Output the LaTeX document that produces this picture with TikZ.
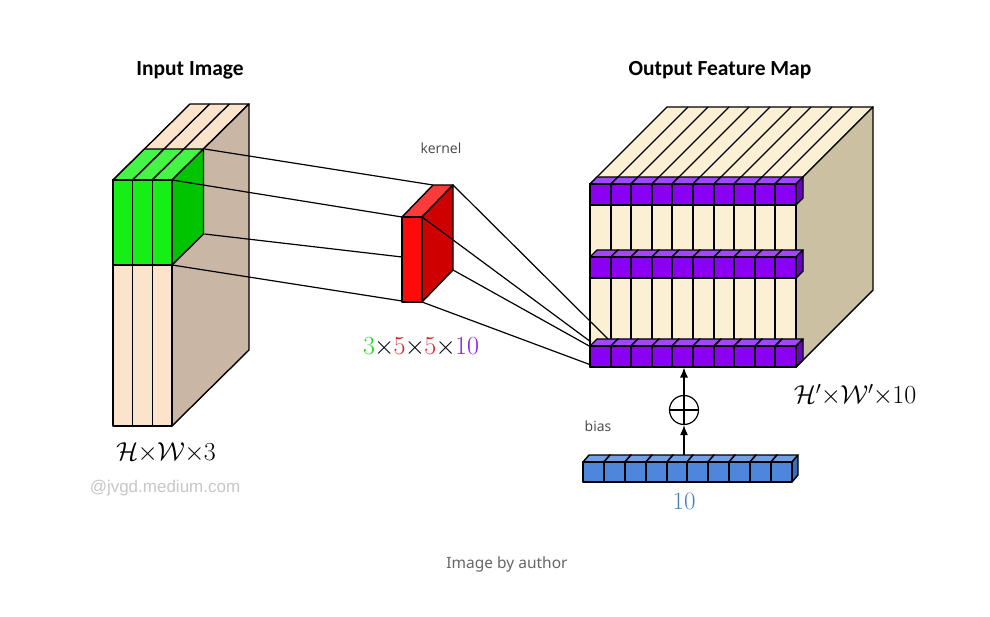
\RequirePackage{fix-cm}
\documentclass[tikz,border=0pt]{standalone}
\usepackage{fontspec}
\usetikzlibrary{arrows.meta}
\newfontfamily\carlito{Carlito}
\newfontfamily\opensans{Open Sans}
\newfontfamily\libsans{Liberation Sans}
\newfontfamily\notosans{Noto Sans}
\definecolor{beigeF}{HTML}{FCE3CB}
\definecolor{tanS}{HTML}{C9B6A4}
\definecolor{greenF}{HTML}{16EE16}
\definecolor{greenT}{HTML}{45F545}
\definecolor{greenS}{HTML}{00C400}
\definecolor{redF}{HTML}{FF0A0A}
\definecolor{redT}{HTML}{FF3A3A}
\definecolor{redS}{HTML}{CF0000}
\definecolor{creamF}{HTML}{FCF0D4}
\definecolor{khakiS}{HTML}{CCC0A2}
\definecolor{purpF}{HTML}{8A00F2}
\definecolor{purpT}{HTML}{A246FF}
\definecolor{purpS}{HTML}{6C00C4}
\definecolor{blueF}{HTML}{4D86DA}
\definecolor{blueT}{HTML}{70A0E6}
\definecolor{blueS}{HTML}{3A6BBE}
\definecolor{kgreen}{HTML}{22DD22}
\definecolor{kred}{HTML}{E0202A}
\definecolor{kpurp}{HTML}{8A1EF0}
\definecolor{tenblue}{HTML}{4A7DC4}
\newcommand\mycube[9]{%
  \filldraw[fill=#8] (#1,#2) -- ({#1+#5},{#2-#6}) -- ({#1+#3+#5},{#2-#6}) -- ({#1+#3},#2) -- cycle;
  \filldraw[fill=#9] ({#1+#3},#2) -- ({#1+#3+#5},{#2-#6}) -- ({#1+#3+#5},{#2+#4-#6}) -- ({#1+#3},{#2+#4}) -- cycle;
  \filldraw[fill=#7] (#1,#2) rectangle ({#1+#3},{#2+#4});
}
\newcommand\tm{\mathord{\mkern-0.5mu\times\mkern-0.5mu}}
\begin{document}
\begin{tikzpicture}[x=1pt,y=-1pt,line width=1.4pt,line join=round,
  conn/.style={line width=1.2pt},
  arr/.style={line width=1.2pt,-{Latex[length=10pt,width=8pt]}},
  title/.style={font=\carlito\bfseries\fontsize{21.5}{25}\selectfont},
  graylab/.style={font=\opensans\fontsize{14}{16}\selectfont,text=black!72},
  dimlab/.style={font=\fontsize{26}{30}\selectfont}]
\useasboundingbox[fill=white] (0,0) rectangle (990,617);

% ---- input block ----
\filldraw[fill=beigeF] (113,180) -- (190,104) -- (249,104) -- (172,180) -- cycle;
\foreach \k in {1,2} {\draw (113+\k*19.67,180) -- (190+\k*19.67,104);}
\filldraw[fill=tanS] (172,180) -- (249,104) -- (249,350) -- (172,426) -- cycle;
\filldraw[fill=beigeF] (113,180) rectangle (172,426);
\foreach \k in {1,2} {\draw (113+\k*19.67,180) -- (113+\k*19.67,426);}
\foreach \k in {0,1,2} {\mycube{113+\k*19.67}{180}{19.67}{85}{31.5}{31}{greenF}{greenT}{greenS}}
\coordinate (g1) at (204.5,149);
\coordinate (g2) at (172,180);
\coordinate (g3) at (204.5,234);
\coordinate (g4) at (172,265);
\coordinate (k1) at (433,185);
\coordinate (k2) at (402,217);
\coordinate (k3) at (402,257);
\coordinate (k4) at (402,301);
\draw[conn] (g1) -- (k1);
\draw[conn] (g2) -- (k2);
\draw[conn] (g3) -- (k3);
\draw[conn] (g4) -- (k4);

% ---- kernel ----
\mycube{402}{217}{20}{85}{31}{32}{redF}{redT}{redS}

% ---- output block ----
\filldraw[fill=creamF] (590,184) -- (667,107) -- (873,107) -- (796,184) -- cycle;
\foreach \k in {1,...,9} {\pgfmathsetmacro\xa{590+round(\k*20.6)}\draw (\xa,184) -- (\xa+77,107);}
\filldraw[fill=khakiS] (796,184) -- (873,107) -- (873,290) -- (796,367) -- cycle;
\filldraw[fill=creamF] (590,184) rectangle (796,367);
\foreach \k in {1,...,9} {\pgfmathsetmacro\xa{590+round(\k*20.6)}\draw (\xa,184) -- (\xa,367);}
\foreach \r in {184,257,346} {
  \foreach \k in {0,...,9} {%
    \pgfmathsetmacro\xa{590+round(\k*20.6)}%
    \pgfmathsetmacro\wd{round((\k+1)*20.6)-round(\k*20.6)}%
    \mycube{\xa}{\r}{\wd}{21}{7}{7}{purpF}{purpT}{purpS}}
}

% ---- bias ----
\foreach \k in {0,...,9} {%
  \pgfmathsetmacro\xa{583+round(\k*20.9)}%
  \pgfmathsetmacro\wd{round((\k+1)*20.9)-round(\k*20.9)}%
  \mycube{\xa}{462}{\wd}{20}{6}{7}{blueF}{blueT}{blueS}}

% ---- kernel to output ----
\coordinate (kb1) at (453,185);
\coordinate (kf1) at (422,217);
\coordinate (kb2) at (453,270);
\coordinate (kf2) at (422,302);
\coordinate (o1) at (608,339);
\coordinate (o2) at (591,342);
\coordinate (o3) at (591,347);
\coordinate (o4) at (591,365);
\draw[conn] (kb1) -- (o1);
\draw[conn] (kf1) -- (o2);
\draw[conn] (kb2) -- (o3);
\draw[conn] (kf2) -- (o4);

% ---- bias addition ----
\node[circle,draw,line width=1.2pt,minimum size=29pt,inner sep=0pt] (plus) at (684,410) {};
\draw[line width=1.2pt] (plus.north) -- (plus.south) (plus.west) -- (plus.east);
\coordinate (btop) at (684,455);
\coordinate (pbot) at (684,367.5);
\draw[arr] (btop) -- (plus);
\draw[arr] (plus) -- (pbot);

% ---- texts ----
\node[title] (tin) at (190,70) {Input Image};
\node[title] (tout) at (720,70) {Output Feature Map};
\node[graylab] (kern) at (441,148) {kernel};
\node[graylab] (bias) at (598,426) {bias};
\node[dimlab] (kdim) at (421,347) {$\color{kgreen}3\color{black}\tm\color{kred}5\color{black}\tm\color{kred}5\color{black}\tm\color{kpurp}10$};
\node[dimlab] (indim) at (166,453) {$\mathcal{H}\tm\mathcal{W}\tm 3$};
\node[dimlab] (outdim) at (855,395) {$\mathcal{H}'\tm\mathcal{W}'\tm 10$};
\node[dimlab,font=\fontsize{25}{29}\selectfont,text=tenblue] (ten) at (684,501) {10};
\node[font=\libsans\fontsize{17}{20}\selectfont,text=black!22] (water) at (165,488) {@jvgd.medium.com};
\node[font=\notosans\fontsize{15.5}{18}\selectfont,text=black!60] (caption) at (507,564) {Image by author};
\end{tikzpicture}
\end{document}
